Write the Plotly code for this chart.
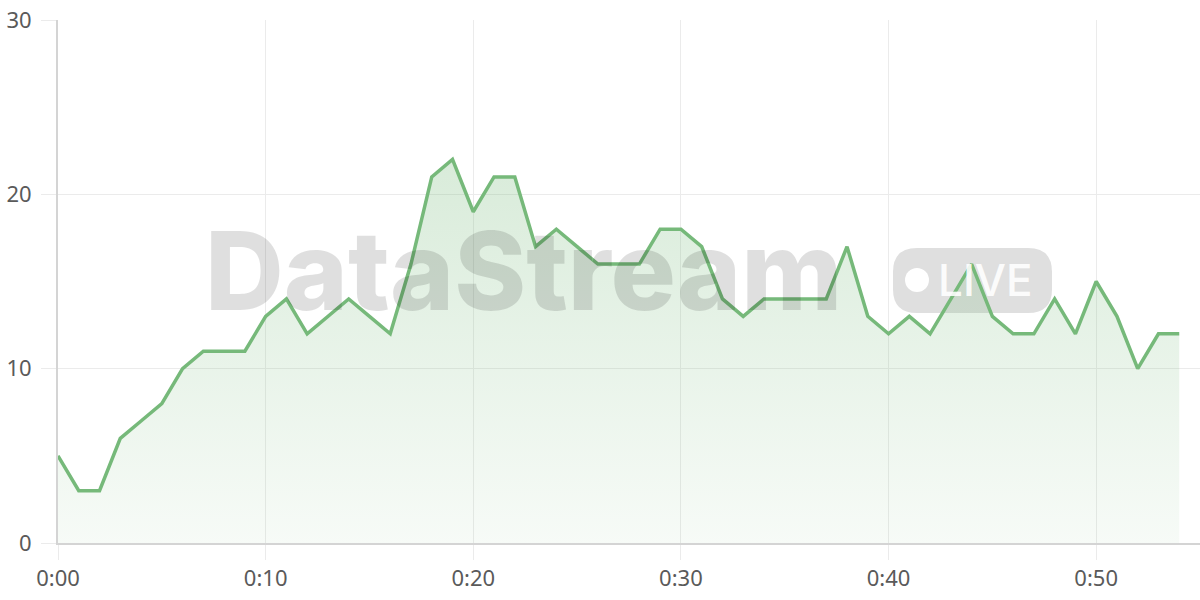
import plotly.graph_objects as go

# viewers per minute of the stream
minutes = list(range(55))
viewers = [5, 3, 3, 6, 7, 8, 10, 11, 11, 11,
           13, 14, 12, 13, 14, 13, 12, 16, 21, 22,
           19, 21, 21, 17, 18, 17, 16, 16, 16, 18,
           18, 17, 14, 13, 14, 14, 14, 14, 17, 13,
           12, 13, 12, 14, 16, 13, 12, 12, 14, 12,
           15, 13, 10, 12, 12]
x_ticks = [0, 10, 20, 30, 40, 50]
x_labels = ["0:00", "0:10", "0:20", "0:30", "0:40", "0:50"]
y_ticks = [0, 10, 20, 30]

GREEN = "rgb(118,185,122)"
FONT = "Noto Sans"

# plot area in pixels (used only to place the watermark)
L, R, T, B = 58, 1200, 20, 543


def px(xp):
    return (xp - L) / (R - L)


def py(yp):
    return (B - yp) / (B - T)


def rounded_rect(x0, y0, x1, y1, r):
    # path in paper coords, r given in pixels
    rx = r / (R - L)
    ry = r / (B - T)
    a, b, c, d = px(x0), py(y1), px(x1), py(y0)
    return (f"M {a + rx},{b} L {c - rx},{b} Q {c},{b} {c},{b + ry} "
            f"L {c},{d - ry} Q {c},{d} {c - rx},{d} L {a + rx},{d} "
            f"Q {a},{d} {a},{d - ry} L {a},{b + ry} Q {a},{b} {a + rx},{b} Z")


fig = go.Figure()

fig.add_trace(go.Scatter(
    x=minutes,
    y=viewers,
    mode="lines",
    line=dict(color=GREEN, width=3.5),
    fill="tozeroy",
    fillgradient=dict(
        type="vertical",
        colorscale=[[0, "rgba(118,185,122,0.06)"], [1, "rgba(118,185,122,0.28)"]],
    ),
    hoverinfo="skip",
))

# --- watermark ---
fig.add_shape(
    type="path", xref="paper", yref="paper", layer="below",
    path=rounded_rect(893, 248, 1052, 313, 24),
    fillcolor="#dfdfdf", line_width=0,
)
fig.add_shape(
    type="circle", xref="paper", yref="paper", layer="below",
    x0=px(905), x1=px(929), y0=py(292), y1=py(268),
    fillcolor="white", line_width=0,
)
fig.add_annotation(
    text="DataStream", xref="paper", yref="paper",
    x=px(523), y=py(270), xanchor="center", yanchor="middle",
    showarrow=False,
    font=dict(family="Inter", size=109, color="rgba(0,0,0,0.125)", weight=800),
)
fig.add_annotation(
    text="LIVE", xref="paper", yref="paper",
    x=px(936), y=py(280), xanchor="left", yanchor="middle",
    showarrow=False,
    font=dict(family="Inter", size=44, color="rgba(255,255,255,0.9)", weight=500),
)

fig.update_xaxes(
    range=[0, 55],
    tickvals=x_ticks,
    ticktext=x_labels,
    showgrid=True, gridcolor="#ebebeb", gridwidth=1,
    ticks="outside", ticklen=15, tickcolor="#ebebeb",
    showline=True, linecolor="#d4d4d4", linewidth=2,
    tickfont=dict(family=FONT, size=22, color="#5a5a5a"),
    zeroline=False, automargin=False,
)
fig.update_yaxes(
    range=[0, 30],
    tickvals=y_ticks,
    showgrid=True, gridcolor="#ebebeb", gridwidth=1,
    ticks="outside", ticklen=15, tickcolor="#ebebeb",
    showline=True, linecolor="#d4d4d4", linewidth=2,
    tickfont=dict(family=FONT, size=22, color="#5a5a5a"),
    ticklabelstandoff=5,
    zeroline=False, automargin=False,
)

fig.update_layout(
    width=1200, height=600,
    margin=dict(l=L, r=1200 - R, t=T, b=600 - B),
    plot_bgcolor="white", paper_bgcolor="white",
    showlegend=False,
)

# drop the default 8px body margin so the figure sits at the page corner
fig.write_html(
    "out.html",
    config={"displayModeBar": False},
    post_script="document.body.style.margin='0';",
)
